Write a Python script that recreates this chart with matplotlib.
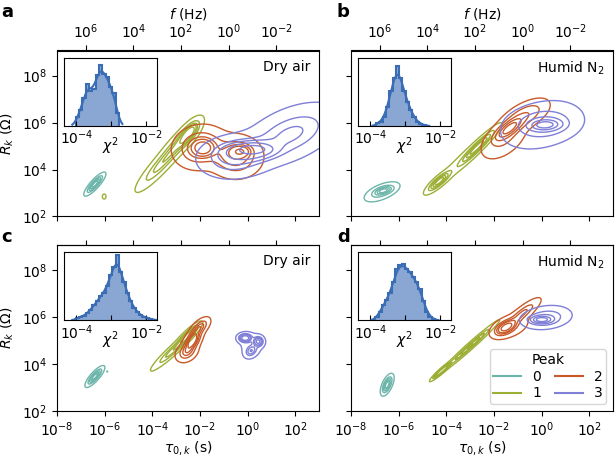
import numpy as np
import matplotlib
matplotlib.use("Agg")
import matplotlib.pyplot as plt
from matplotlib.lines import Line2D
from matplotlib.ticker import FixedLocator, NullLocator, NullFormatter, FixedFormatter

plt.rcParams['font.family'] = ['DejaVu Sans']
plt.rcParams['font.size'] = 10
plt.rcParams['mathtext.fontset'] = 'dejavusans'

# ---------------- data ----------------
panel_letters = ['a', 'b', 'c', 'd']
panel_titles = ['Dry air', 'Humid N$_2$', 'Dry air', 'Humid N$_2$']
peak_labels = ['0', '1', '2', '3']
peak_colors = ['#6db5aa', '#9dae35', '#c85a2a', '#7f7fd8']

tau_ticks = [1e-8, 1e-6, 1e-4, 1e-2, 1e0, 1e2]
r_ticks = [1e2, 1e4, 1e6, 1e8]
f_ticks = [1e6, 1e4, 1e2, 1e0, 1e-2]

# KDE clusters, components: [log10 tau, log10 R, spread tau, spread R, correlation, weight]
a_peak0 = [[-6.41, 3.38, 0.19, 0.21, 0.85, 1.0]]
a_peak1 = [[-2.45, 5.55, 0.25, 0.30, 0.70, 0.30],
           [-2.90, 5.10, 0.45, 0.50, 0.85, 0.35],
           [-3.70, 4.15, 0.50, 0.55, 0.90, 0.35],
           [-6.02, 2.85, 0.05, 0.07, 0.00, 0.004]]
a_peak2 = [[-1.87, 4.92, 0.22, 0.17, 0.00, 0.15],
           [-0.30, 4.78, 0.25, 0.15, 0.00, 0.07],
           [-2.00, 4.95, 0.55, 0.45, 0.10, 0.40],
           [-0.50, 4.55, 0.55, 0.45, 0.00, 0.38]]
a_peak3 = [[0.23, 4.86, 0.30, 0.10, 0.00, 0.12],
           [0.10, 4.80, 0.60, 0.22, 0.10, 0.20],
           [-0.60, 4.55, 0.80, 0.48, 0.10, 0.25],
           [1.80, 5.50, 1.10, 0.70, 0.50, 0.43]]

b_peak0 = [[-6.64, 3.10, 0.20, 0.10, 0.50, 0.50],
           [-6.70, 3.05, 0.35, 0.20, 0.60, 0.50]]
b_peak1 = [[-2.70, 4.95, 0.40, 0.40, 0.95, 0.50],
           [-4.30, 3.50, 0.25, 0.22, 0.85, 0.30],
           [-3.30, 4.40, 0.80, 0.75, 0.96, 0.20]]
b_peak2 = [[-1.35, 5.75, 0.30, 0.25, 0.75, 0.45],
           [-0.70, 6.30, 0.50, 0.35, 0.60, 0.30],
           [-1.60, 5.30, 0.50, 0.45, 0.50, 0.25]]
b_peak3 = [[0.15, 5.90, 0.35, 0.13, 0.10, 0.35],
           [0.10, 5.95, 0.60, 0.30, 0.10, 0.35],
           [0.00, 5.90, 0.90, 0.55, 0.30, 0.30]]

c_peak0 = [[-6.41, 3.46, 0.17, 0.19, 0.82, 1.0],
           [-5.89, 3.67, 0.03, 0.03, 0.00, 0.003]]
c_peak1 = [[-2.50, 5.22, 0.25, 0.25, 0.88, 0.45],
           [-3.10, 4.60, 0.45, 0.42, 0.95, 0.55]]
c_peak2 = [[-2.30, 5.00, 0.20, 0.24, 0.50, 0.45],
           [-2.00, 5.55, 0.22, 0.22, 0.60, 0.25],
           [-2.55, 4.50, 0.24, 0.22, 0.30, 0.30]]
c_peak3 = [[-0.10, 5.10, 0.15, 0.10, 0.00, 0.35],
           [0.45, 4.95, 0.12, 0.12, 0.00, 0.25],
           [0.15, 4.55, 0.15, 0.15, 0.30, 0.20],
           [0.15, 4.85, 0.30, 0.30, 0.00, 0.20]]

d_peak0 = [[-6.48, 3.11, 0.12, 0.20, 0.60, 1.0]]
d_peak1 = [[-3.00, 4.75, 0.55, 0.50, 0.985, 0.70],
           [-4.20, 3.70, 0.20, 0.18, 0.95, 0.30]]
d_peak2 = [[-1.50, 5.55, 0.25, 0.18, 0.50, 0.50],
           [-0.80, 6.15, 0.35, 0.30, 0.85, 0.30],
           [-1.30, 5.60, 0.45, 0.30, 0.40, 0.20]]
d_peak3 = [[0.00, 5.88, 0.25, 0.09, 0.00, 0.40],
           [0.15, 5.95, 0.45, 0.20, 0.20, 0.40],
           [0.25, 6.00, 0.55, 0.28, 0.20, 0.20]]

kde_props = [0.05, 0.24, 0.43, 0.62, 0.81]

# chi^2 histograms (log10 first edge, log10 bin width, heights)
a_chi_start, a_chi_width = -4.016, 0.095
a_chi_counts = [27, 47, 82, 122, 102, 107, 147, 177, 152, 142, 112, 97, 37]
b_chi_start, b_chi_width = -3.84, 0.095
b_chi_counts = [8, 12, 25, 55, 100, 140, 174, 140, 100, 70, 45, 25, 12, 6, 3]
c_chi_start, c_chi_width = -4.016, 0.095
c_chi_counts = [8, 10, 12, 22, 30, 45, 55, 70, 80, 100, 130, 155, 190, 140, 110,
                80, 55, 35, 25, 15, 10, 6, 4, 2]
d_chi_start, d_chi_width = -3.86, 0.095
d_chi_counts = [10, 25, 45, 60, 80, 110, 150, 160, 162, 150, 140, 125, 110, 90,
                55, 25, 10, 4]

panel_peaks = [[a_peak0, a_peak1, a_peak2, a_peak3],
               [b_peak0, b_peak1, b_peak2, b_peak3],
               [c_peak0, c_peak1, c_peak2, c_peak3],
               [d_peak0, d_peak1, d_peak2, d_peak3]]
panel_hist = [(a_chi_start, a_chi_width, a_chi_counts),
              (b_chi_start, b_chi_width, b_chi_counts),
              (c_chi_start, c_chi_width, c_chi_counts),
              (d_chi_start, d_chi_width, d_chi_counts)]

# ---------------- helpers ----------------
YMAX_LOG = 9.07
gx = np.linspace(-8, 3, 500)
gy = np.linspace(2, YMAX_LOG, 360)
GX, GY = np.meshgrid(gx, gy)


def density(comps):
    Z = np.zeros_like(GX)
    for mx, my, sx, sy, r, w in comps:
        dx = (GX - mx) / sx
        dy = (GY - my) / sy
        q = (dx * dx - 2 * r * dx * dy + dy * dy) / (1 - r * r)
        Z += w * np.exp(-0.5 * q) / (2 * np.pi * sx * sy * np.sqrt(1 - r * r))
    return Z


def iso_levels(Z, props):
    z = np.sort(Z.ravel())
    c = np.cumsum(z)
    c /= c[-1]
    lv = [z[min(np.searchsorted(c, p), len(z) - 1)] for p in props]
    return sorted(set(lv))


def t2f(t):
    with np.errstate(divide='ignore', invalid='ignore'):
        return 1.0 / (2 * np.pi * np.asarray(t, dtype=float))


# ---------------- figure ----------------
W, H = 616, 459
fig = plt.figure(figsize=(W / 100, H / 100), dpi=100)


def px_axes(l, t, w, h):
    return fig.add_axes([l / W, 1 - (t + h) / H, w / W, h / H])


axes = [px_axes(57, 50.5, 262, 166), px_axes(351, 50.5, 262, 166),
        px_axes(57, 244.8, 262, 166), px_axes(351, 244.8, 262, 166)]

hist_fill = '#7698cd'
hist_edge = '#3b6db4'

for i, ax in enumerate(axes):
    ax.set_xscale('log')
    ax.set_yscale('log')
    ax.set_xlim(1e-8, 1e3)
    ax.set_ylim(1e2, 10 ** YMAX_LOG)
    ax.xaxis.set_major_locator(FixedLocator(tau_ticks))
    ax.yaxis.set_major_locator(FixedLocator(r_ticks))
    ax.xaxis.set_minor_locator(NullLocator())
    ax.yaxis.set_minor_locator(NullLocator())

    for comps, col in zip(panel_peaks[i], peak_colors):
        Z = density(comps)
        lv = iso_levels(Z, kde_props)
        ax.contour(10 ** GX, 10 ** GY, Z, levels=lv, colors=col, linewidths=1.0)

    sec = ax.secondary_xaxis('top', functions=(t2f, t2f))
    sec.xaxis.set_major_locator(FixedLocator(f_ticks))
    sec.xaxis.set_minor_locator(NullLocator())
    if i < 2:
        sec.set_xlabel('$f$ (Hz)', labelpad=3)
        ax.tick_params(axis='x', labelbottom=False)
    else:
        sec.xaxis.set_major_formatter(NullFormatter())
        ax.set_xlabel(r'$\tau_{0,k}$ (s)', labelpad=0)
    if i % 2 == 0:
        ax.set_ylabel('$R_k$ (Ω)')
    else:
        ax.tick_params(axis='y', labelleft=False)

    ax.text(0.968, 0.945, panel_titles[i], transform=ax.transAxes,
            ha='right', va='top')

    # inset histogram
    start, width, counts = panel_hist[i]
    counts = np.asarray(counts, dtype=float)
    edges_log = start + width * np.arange(len(counts) + 1)
    centers = 0.5 * (edges_log[:-1] + edges_log[1:])
    ins = ax.inset_axes([0.027, 0.545, 0.355, 0.41])
    ins.set_xscale('log')
    ins.stairs(counts, 10 ** edges_log, fill=True, color=hist_fill, alpha=0.85)
    ins.stairs(counts, 10 ** edges_log, color=hist_edge, linewidth=1.5)
    xs = np.linspace(edges_log[0] - 0.1, edges_log[-1] + 0.1, 300)
    s = 1.0 * width
    ys = (counts[:, None] * np.exp(-0.5 * ((xs[None, :] - centers[:, None]) / s) ** 2)).sum(0) \
        * width / (s * np.sqrt(2 * np.pi))
    ins.plot(10 ** xs, ys, color=hist_edge, lw=1.5)
    ins.set_xlim(10 ** -4.35, 10 ** -1.69)
    ins.set_ylim(0, 197)
    ins.set_yticks([])
    ins.xaxis.set_major_locator(FixedLocator([1e-4, 1e-3, 1e-2]))
    ins.xaxis.set_minor_locator(NullLocator())
    ins.xaxis.set_major_formatter(FixedFormatter(['$10^{-4}$', '', '$10^{-2}$']))
    ins.tick_params(axis='x', direction='in', pad=2)
    ins.set_xlabel(r'$\chi^2$', labelpad=-9)

# legend
handles = [Line2D([], [], color=c, lw=1.5) for c in peak_colors]
axes[3].legend(handles, peak_labels, title='Peak', ncol=2, loc='lower right',
               borderpad=0.25, labelspacing=0.2, columnspacing=1.0,
               handletextpad=0.8, borderaxespad=0.5)

# panel letters
for (x, y), letter in zip([(1, 17), (336, 17), (1, 242), (337, 242)], panel_letters):
    fig.text(x / W, 1 - y / H, letter, fontsize=13, fontweight='bold', va='baseline')

fig.savefig('out.png', dpi=100)
